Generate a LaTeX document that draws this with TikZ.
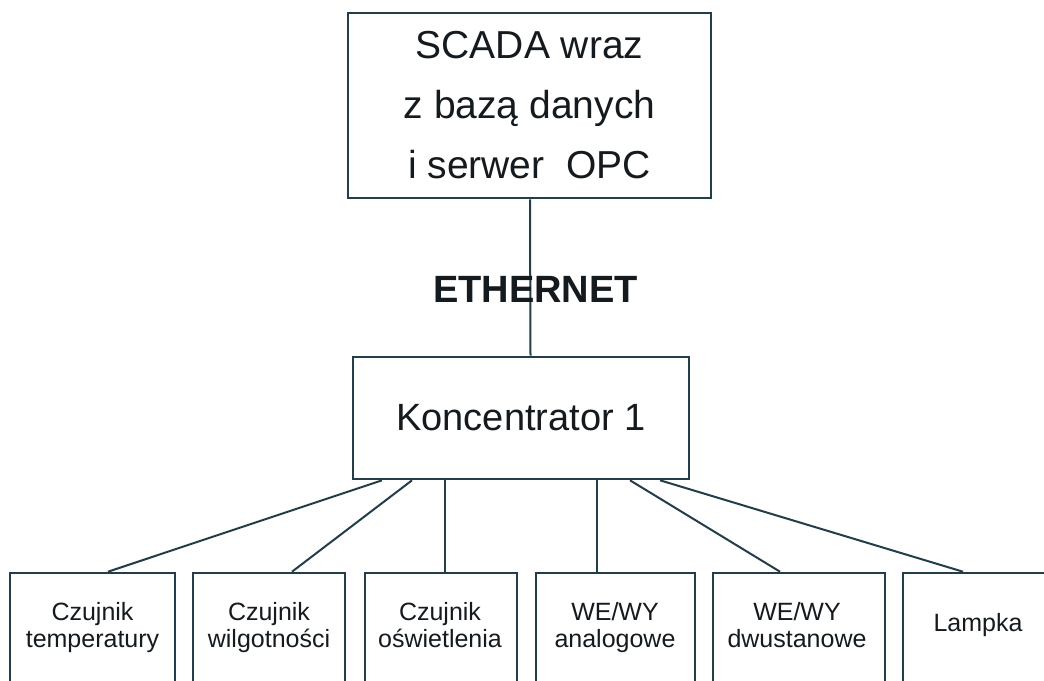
\documentclass[tikz,border=0pt]{standalone}
\usepackage{fontspec}
\setmainfont{Liberation Sans}
\definecolor{edge}{RGB}{35,62,72}
\definecolor{ink}{RGB}{20,26,30}
\newcommand{\topstrut}{\rule{0pt}{20pt}}
\newcommand{\botstrut}{\rule[-6pt]{0pt}{6pt}}
\tikzset{
  box/.style={draw=edge, line width=2.6pt, rectangle, inner sep=0pt, text=ink, align=center},
  bigtext/.style={font=\fontsize{39}{60}\selectfont},
  midtext/.style={font=\fontsize{38}{46}\selectfont},
  smalltext/.style={text=ink, align=center, inner sep=0pt, font=\fontsize{25}{27}\selectfont},
  link/.style={draw=edge, line width=2pt},
  leaf/.style={box, minimum height=127pt}
}
\begin{document}
\begin{tikzpicture}[x=1pt, y=-1pt]
  \useasboundingbox (0,0) rectangle (1044,680);
  \clip (0,0) rectangle (1044,680);
  \fill[white] (0,0) rectangle (1044,680);

  % server and hub
  \node[box, bigtext, minimum width=363pt, minimum height=185pt] (scada) at (529.5,105.5)
    {SCADA wraz\\z bazą danych\\i serwer\ \ OPC};
  \node[box, midtext, minimum width=336pt, minimum height=122pt] (hub) at (521,418)
    {Koncentrator 1};
  \draw[link] ([xshift=0.5pt]scada.south) -- ([xshift=9.5pt]hub.north);
  \node[text=ink, inner sep=0pt, font=\fontsize{38}{46}\selectfont\bfseries] (eth) at (535.5,289) {ETHERNET};

  % field devices
  \node[leaf, minimum width=165pt] (b1) at (92.5,636.5) {};
  \node[leaf, minimum width=152pt] (b2) at (269,636.5) {};
  \node[leaf, minimum width=152pt] (b3) at (441,636.5) {};
  \node[leaf, minimum width=159pt] (b4) at (615.5,636.5) {};
  \node[leaf, minimum width=172pt] (b5) at (799,636.5) {};
  \node[leaf, minimum width=150pt] (b6) at (978,636.5) {};

  \node[smalltext] (t1) at (92.5,626.5) {\topstrut Czujnik\\temperatury\botstrut};
  \node[smalltext] (t2) at (269,626.5) {\topstrut Czujnik\\wilgotności\botstrut};
  \node[smalltext] (t3) at (440,626.5) {\topstrut Czujnik\\oświetlenia\botstrut};
  \node[smalltext] (t4) at (615,626.5) {\topstrut WE/WY\\analogowe\botstrut};
  \node[smalltext] (t5) at (797,626.5) {\topstrut WE/WY\\dwustanowe\botstrut};
  \node[smalltext] (t6) at (978,625.5) {Lampka};

  % bus links from the hub
  \draw[link] ([xshift=-139pt]hub.south) -- ([xshift=15.5pt]b1.north);
  \draw[link] ([xshift=-109pt]hub.south) -- ([xshift=23pt]b2.north);
  \draw[link] ([xshift=-76pt]hub.south) -- ([xshift=4pt]b3.north);
  \draw[link] ([xshift=76pt]hub.south) -- ([xshift=-18.5pt]b4.north);
  \draw[link] ([xshift=109pt]hub.south) -- ([xshift=-19pt]b5.north);
  \draw[link] ([xshift=139pt]hub.south) -- ([xshift=-15pt]b6.north);
\end{tikzpicture}
\end{document}
